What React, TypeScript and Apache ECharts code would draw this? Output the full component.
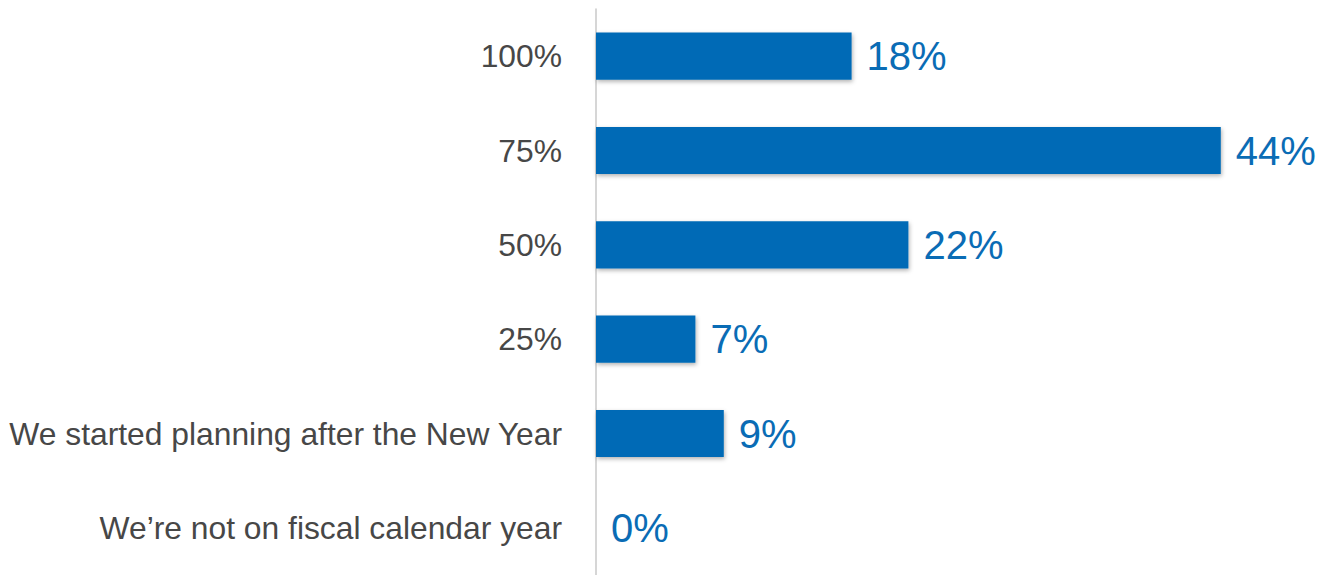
import React, { useEffect, useRef } from "react";
import * as echarts from "echarts";

const categories = [
  "100%",
  "75%",
  "50%",
  "25%",
  "We started planning after the New Year",
  "We\u2019re not on fiscal calendar year",
];
const values = [18, 44, 22, 7, 9, 0];

export default function App() {
  const ref = useRef<HTMLDivElement>(null);
  useEffect(() => {
    if (!ref.current) return;
    const chart = echarts.init(ref.current, undefined, { renderer: "svg" });
    chart.setOption({
      animation: false,
      backgroundColor: "#ffffff",
      grid: { left: 596, right: 26, top: 9, bottom: 0, containLabel: false },
      xAxis: {
        type: "value",
        min: 0,
        max: 50,
        show: false,
      },
      yAxis: {
        type: "category",
        data: categories,
        inverse: true,
        axisLine: { show: true, lineStyle: { color: "#c8c8c8", width: 1.5 } },
        axisTick: { show: false },
        axisLabel: {
          margin: 34,
          fontFamily: "Liberation Sans, Arial, sans-serif",
          fontSize: 31.8,
          color: "#474747",
        },
      },
      series: [
        {
          type: "bar",
          data: values,
          barWidth: "50%",
          itemStyle: {
            color: "#006bb6",
            shadowBlur: 4,
            shadowColor: "rgba(0,0,0,0.3)",
            shadowOffsetX: 1,
            shadowOffsetY: 2,
          },
          label: {
            show: true,
            position: "right",
            distance: 15,
            formatter: "{c}%",
            fontFamily: "Liberation Sans, Arial, sans-serif",
            fontSize: 40,
            color: "#0a6cb5",
          },
        },
      ],
    });
    return () => chart.dispose();
  }, []);
  return (
    <div
      ref={ref}
      style={{ position: "fixed", left: 0, top: 0, width: 1332, height: 575 }}
    />
  );
}
